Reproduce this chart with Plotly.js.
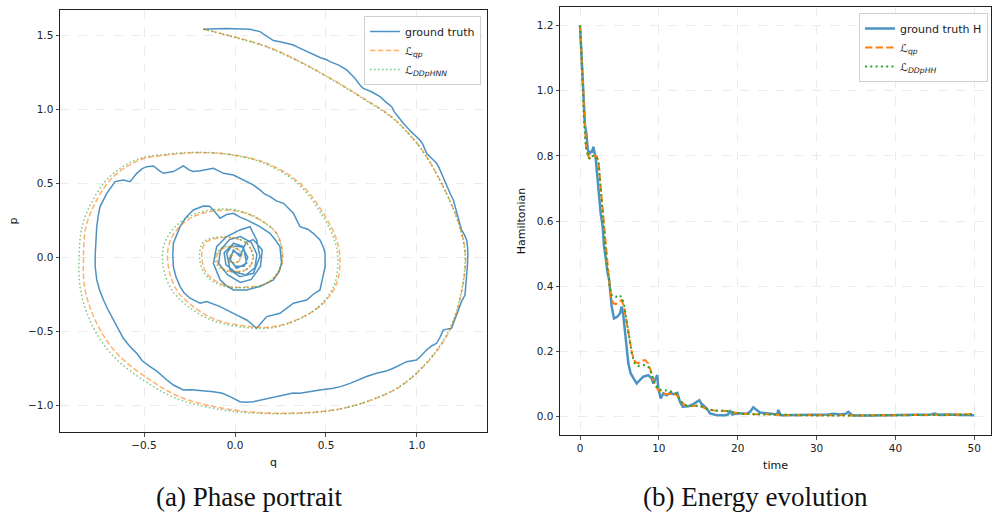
<!DOCTYPE html>
<html>
<head>
<meta charset="utf-8">
<script src="https://cdn.plot.ly/plotly-3.0.1.min.js"></script>
<style>html,body{margin:0;padding:0;background:#fff;}#chart{width:992px;height:517px;}</style>
</head>
<body>
<div id="chart"></div>
<script>
// ---------- (a) Phase portrait ----------
const gtQ = [-0.174,-0.13,-0.101,-0.05,0.0,0.04,0.082,0.137,0.17,0.211,
0.26,0.30,0.321,0.35,0.38,0.430,0.47,0.50,0.522,0.57,
0.614,0.64,0.66,0.69,0.705,0.75,0.797,0.83,0.861,0.875,
0.89,0.925,0.96,0.999,1.015,1.03,1.053,1.08,1.108,1.12,
1.13,1.145,1.17,1.185,1.200,1.21,1.22,1.235,1.245,1.262,
1.273,1.278,1.28,1.277,1.272,1.27,1.264,1.245,1.227,1.21,
1.190,1.165,1.145,1.125,1.108,1.08,1.053,1.02,0.998,0.943,
0.905,0.870,0.83,0.778,0.723,0.68,0.632,0.58,0.540,0.467,
0.40,0.357,0.32,0.284,0.23,0.174,0.13,0.101,0.06,0.027,
-0.027,-0.07,-0.119,-0.16,-0.192,-0.24,-0.284,-0.339,-0.37,-0.394,
-0.43,-0.467,-0.51,-0.540,-0.58,-0.614,-0.640,-0.668,-0.70,-0.723,
-0.745,-0.760,-0.768,-0.769,-0.766,-0.760,-0.752,-0.742,-0.705,-0.68,
-0.659,-0.614,-0.577,-0.540,-0.51,-0.485,-0.449,-0.42,-0.394,-0.339,
-0.31,-0.284,-0.25,-0.229,-0.19,-0.156,-0.119,-0.09,-0.064,-0.009,
0.03,0.064,0.10,0.137,0.16,0.192,0.23,0.266,0.30,0.321,
0.34,0.357,0.40,0.430,0.467,0.485,0.495,0.495,0.48,0.467,
0.43,0.394,0.321,0.28,0.247,0.174,0.145,0.119,0.09,0.064,
-0.009,-0.082,-0.156,-0.192,-0.247,-0.28,-0.302,-0.325,-0.339,-0.342,
-0.339,-0.302,-0.27,-0.229,-0.174,-0.140,-0.119,-0.082,-0.045,-0.009,
0.03,0.064,0.137,0.192,0.22,0.247,0.256,0.24,0.211,0.137,
0.064,-0.009,-0.05,-0.082,-0.119,-0.101,-0.046,0.027,0.082,0.119,
0.137,0.101,0.027,-0.027,-0.046,-0.009,0.046,0.064,0.009,-0.027,
-0.009,0.027,0.06,0.10,0.15,0.14,0.09,0.03,-0.04,-0.09,
-0.08,-0.03,0.03,0.09,0.12,0.11,0.06,0.0,-0.05,-0.06,
-0.02,0.04,0.07,0.05,0.0,-0.03,-0.01,0.03];
const gtP = [1.543,1.546,1.547,1.548,1.546,1.545,1.543,1.527,1.50,1.466,
1.455,1.445,1.436,1.418,1.40,1.369,1.35,1.338,1.324,1.30,
1.268,1.235,1.21,1.16,1.143,1.12,1.087,1.05,1.019,0.985,
0.96,0.907,0.86,0.816,0.795,0.77,0.704,0.67,0.636,0.61,
0.58,0.535,0.46,0.425,0.388,0.34,0.30,0.23,0.185,0.15,
0.117,0.07,0.02,-0.063,-0.12,-0.16,-0.255,-0.30,-0.356,-0.42,
-0.480,-0.486,-0.492,-0.545,-0.582,-0.60,-0.627,-0.67,-0.695,-0.706,
-0.73,-0.751,-0.77,-0.785,-0.807,-0.83,-0.853,-0.875,-0.886,-0.898,
-0.91,-0.920,-0.918,-0.927,-0.94,-0.954,-0.965,-0.977,-0.98,-0.977,
-0.943,-0.92,-0.909,-0.905,-0.898,-0.897,-0.898,-0.864,-0.835,-0.807,
-0.77,-0.740,-0.70,-0.650,-0.60,-0.548,-0.49,-0.424,-0.35,-0.289,
-0.22,-0.153,-0.07,0.005,0.10,0.207,0.28,0.343,0.433,0.48,
0.512,0.523,0.512,0.568,0.60,0.613,0.618,0.59,0.568,0.580,
0.60,0.618,0.59,0.580,0.585,0.591,0.602,0.585,0.568,0.557,
0.535,0.512,0.49,0.456,0.43,0.410,0.38,0.365,0.32,0.298,
0.25,0.207,0.19,0.162,0.117,0.07,0.027,-0.063,-0.15,-0.221,
-0.25,-0.289,-0.311,-0.35,-0.379,-0.401,-0.44,-0.480,-0.45,-0.424,
-0.379,-0.334,-0.300,-0.311,-0.277,-0.24,-0.198,-0.13,-0.063,0.02,
0.095,0.207,0.27,0.320,0.347,0.345,0.320,0.264,0.29,0.298,
0.27,0.253,0.207,0.162,0.12,0.072,-0.041,-0.10,-0.153,-0.198,
-0.221,-0.221,-0.19,-0.153,-0.041,0.072,0.140,0.185,0.207,0.117,
0.005,-0.108,-0.131,-0.086,0.027,0.095,0.072,-0.041,-0.074,-0.018,
0.050,0.005,0.10,0.12,0.05,-0.06,-0.15,-0.17,-0.12,-0.04,
0.05,0.12,0.14,0.10,0.02,-0.07,-0.12,-0.10,-0.05,0.03,
0.08,0.07,0.0,-0.06,-0.06,-0.01,0.04,0.02];

const qpQ = [-0.174,-0.009,0.174,0.357,0.540,0.700,0.861,0.960,1.035,1.145,1.236,1.267,1.236,1.172,1.053,0.907,0.723,0.540,0.266,-0.009,-0.284,-0.467,-0.650,-0.760,-0.824,-0.833,-0.819,-0.760,-0.668,-0.522,-0.375,-0.192,-0.009,0.174,0.357,0.485,0.559,0.577,0.559,0.485,0.357,0.211,0.082,-0.101,-0.229,-0.321,-0.366,-0.366,-0.321,-0.229,-0.101,0.027,0.137,0.229,0.262,0.247,0.174,0.046,-0.064,-0.156,-0.183,-0.165,-0.101,-0.009,0.064,0.101,0.073,-0.009,-0.082,-0.101,-0.064,-0.009,0.037,0.018,-0.027,-0.030,-0.010];
const qpP = [1.543,1.493,1.426,1.324,1.200,1.080,0.950,0.830,0.715,0.478,0.207,0.000,-0.289,-0.514,-0.717,-0.875,-0.977,-1.033,-1.055,-1.033,-0.954,-0.830,-0.650,-0.447,-0.221,0.000,0.207,0.388,0.546,0.659,0.692,0.708,0.692,0.636,0.501,0.298,0.117,-0.018,-0.176,-0.311,-0.413,-0.469,-0.469,-0.424,-0.334,-0.221,-0.063,0.072,0.185,0.275,0.316,0.309,0.253,0.162,0.027,-0.086,-0.176,-0.203,-0.187,-0.108,0.005,0.095,0.129,0.129,0.095,0.005,-0.074,-0.097,-0.063,0.005,0.061,0.068,0.027,-0.029,-0.029,0.000,0.020];

const ddQ = [-0.174,-0.009,0.174,0.357,0.540,0.700,0.861,0.960,1.035,1.145,1.236,1.265,1.232,1.165,1.045,0.897,0.710,0.525,0.250,-0.025,-0.300,-0.487,-0.672,-0.785,-0.848,-0.857,-0.840,-0.778,-0.682,-0.532,-0.380,-0.192,-0.012,0.168,0.348,0.475,0.548,0.565,0.547,0.474,0.346,0.197,0.066,-0.117,-0.250,-0.345,-0.395,-0.392,-0.340,-0.240,-0.105,0.025,0.137,0.227,0.258,0.241,0.165,0.036,-0.076,-0.168,-0.195,-0.176,-0.108,-0.012,0.062,0.098,0.068,-0.015,-0.090,-0.110,-0.070,-0.012,0.034,0.014,-0.032,-0.036,-0.014];
const ddP = [1.543,1.490,1.423,1.320,1.196,1.076,0.946,0.826,0.711,0.474,0.200,-0.005,-0.295,-0.520,-0.723,-0.880,-0.982,-1.038,-1.058,-1.040,-0.965,-0.845,-0.665,-0.460,-0.228,0.000,0.210,0.395,0.553,0.665,0.697,0.710,0.692,0.632,0.496,0.293,0.112,-0.022,-0.180,-0.318,-0.422,-0.478,-0.476,-0.430,-0.340,-0.225,-0.063,0.075,0.192,0.283,0.324,0.314,0.255,0.160,0.025,-0.090,-0.180,-0.206,-0.190,-0.110,0.005,0.100,0.135,0.133,0.096,0.003,-0.078,-0.100,-0.064,0.005,0.064,0.070,0.026,-0.032,-0.030,0.002,0.022];

const phaseTickVals = [-0.5, 0.0, 0.5, 1.0];
const phaseTickText = ["\u22120.5", "0.0", "0.5", "1.0"];
const phaseYTickVals = [-1.0, -0.5, 0.0, 0.5, 1.0, 1.5];
const phaseYTickText = ["\u22121.0", "\u22120.5", "0.0", "0.5", "1.0", "1.5"];

// ---------- (b) Energy evolution ----------
const gtT = [0,0.2,0.4,0.63,0.8,0.97,1.14,1.35,1.5,1.69,1.99,2.32,2.62,2.87,3.04,3.30,3.5,3.7,3.8,4.02,4.31,4.73,5.07,5.29,5.49,5.71,5.92,6.13,6.43,6.76,7.19,7.61,8.03,8.66,9.09,9.30,9.64,9.80,9.93,10.23,10.57,10.99,11.41,11.92,12.34,12.68,13.02,13.74,14.37,14.92,15.13,15.43,16.06,16.49,17.33,18.39,18.8,19.02,19.3,20,21.14,21.6,21.98,22.4,22.83,23.67,24.5,25.0,25.15,25.4,25.57,27.9,30,31.5,32.13,33,33.7,34.03,34.4,34.66,37,40.58,43,44.5,45.02,45.5,46.5,48,49,50];
const gtH = [1.20,1.10,0.97,0.895,0.87,0.823,0.803,0.815,0.81,0.828,0.793,0.70,0.624,0.585,0.525,0.48,0.44,0.42,0.385,0.337,0.301,0.306,0.316,0.337,0.311,0.255,0.214,0.163,0.132,0.117,0.101,0.112,0.122,0.127,0.117,0.101,0.122,0.127,0.086,0.055,0.071,0.065,0.072,0.068,0.072,0.045,0.030,0.031,0.038,0.045,0.050,0.038,0.025,0.009,0.004,0.004,0.006,0.019,0.006,0.010,0.008,0.015,0.028,0.020,0.012,0.010,0.008,0.006,0.020,0.006,0.004,0.004,0.005,0.006,0.008,0.006,0.008,0.014,0.006,0.003,0.003,0.004,0.004,0.006,0.009,0.005,0.006,0.005,0.004,0.004];

const qpT = [0,0.25,0.51,0.76,1.06,1.27,1.6,2.11,2.24,2.37,2.6,2.87,3.17,3.46,3.72,3.93,4.23,4.57,4.99,5.28,5.58,5.92,6.25,6.59,6.97,7.40,7.82,8.24,8.66,8.96,9.21,9.51,9.93,10.36,10.99,11.62,12.17,12.59,13.02,13.53,14.37,15.22,15.85,16.5,17,18.5,19.5,20.5,22,24,26,28,30,35,40,43,46,48,50];
const qpH = [1.20,1.08,0.91,0.829,0.798,0.793,0.80,0.798,0.79,0.778,0.71,0.634,0.542,0.46,0.409,0.367,0.347,0.345,0.352,0.357,0.337,0.286,0.234,0.194,0.168,0.163,0.171,0.173,0.163,0.142,0.122,0.096,0.081,0.073,0.068,0.070,0.068,0.055,0.040,0.032,0.033,0.033,0.025,0.020,0.018,0.017,0.012,0.008,0.007,0.007,0.004,0.003,0.004,0.003,0.003,0.003,0.005,0.006,0.008];

const ddT = [0,0.25,0.51,0.76,1.06,1.27,1.6,2.11,2.37,2.6,2.87,3.17,3.46,3.72,3.93,4.23,4.57,4.87,5.28,5.58,5.92,6.25,6.59,6.97,7.40,7.82,8.24,8.66,8.96,9.21,9.51,9.93,10.36,10.99,11.62,12.17,12.59,13.02,13.53,14.37,15.22,15.85,16.5,17,18.5,19.5,20.5,22,24,26,28,30,35,40,43,46,48,50];
const ddH = [1.20,1.08,0.905,0.825,0.795,0.79,0.80,0.795,0.775,0.70,0.625,0.535,0.455,0.41,0.375,0.368,0.367,0.373,0.367,0.345,0.29,0.235,0.19,0.16,0.155,0.157,0.158,0.152,0.138,0.12,0.098,0.085,0.08,0.08,0.076,0.07,0.056,0.04,0.033,0.034,0.033,0.025,0.02,0.018,0.017,0.012,0.008,0.007,0.006,0.004,0.003,0.003,0.003,0.003,0.003,0.004,0.005,0.006];

const energyXTicks = [0, 10, 20, 30, 40, 50];
const energyYTicks = [0.0, 0.2, 0.4, 0.6, 0.8, 1.0, 1.2];
const energyYText = ["0.0", "0.2", "0.4", "0.6", "0.8", "1.0", "1.2"];

const names = {
  gtA: "ground truth",
  qp: "\u2112<sub><i>qp</i></sub>",
  ddA: "\u2112<sub><i>DDpHNN</i></sub>",
  gtB: "ground truth H",
  ddB: "\u2112<sub><i>DDpHH</i></sub>"
};
const captions = ["(a) Phase portrait", "(b) Energy evolution"];

const C = {blue: "31,119,180", orange: "255,127,14", green: "44,160,44"};

const traces = [
  {x: gtQ, y: gtP, xaxis: "x", yaxis: "y", mode: "lines", name: names.gtA, legend: "legend",
   line: {color: `rgba(${C.blue},0.8)`, width: 1.5}},
  {x: qpQ, y: qpP, xaxis: "x", yaxis: "y", mode: "lines", name: names.qp, legend: "legend",
   line: {color: `rgba(${C.orange},0.6)`, width: 1.5, dash: "5.5px,2.4px", shape: "spline", smoothing: 1}},
  {x: ddQ, y: ddP, xaxis: "x", yaxis: "y", mode: "lines", name: names.ddA, legend: "legend",
   line: {color: `rgba(${C.green},0.6)`, width: 1.5, dash: "1.5px,2.5px", shape: "spline", smoothing: 1}},
  {x: gtT, y: gtH, xaxis: "x2", yaxis: "y2", mode: "lines", name: names.gtB, legend: "legend2",
   line: {color: `rgba(${C.blue},0.8)`, width: 2.5}},
  {x: qpT, y: qpH, xaxis: "x2", yaxis: "y2", mode: "lines", name: names.qp, legend: "legend2",
   line: {color: `rgb(${C.orange})`, width: 2, dash: "7.4px,3.2px"}},
  {x: ddT, y: ddH, xaxis: "x2", yaxis: "y2", mode: "lines", name: names.ddB, legend: "legend2",
   line: {color: `rgb(${C.green})`, width: 2, dash: "2px,3.3px"}}
];

const W = 992, H = 517;
const axisCommon = {
  showline: true, mirror: true, linecolor: "#222", linewidth: 1,
  ticks: "outside", ticklen: 3.5, tickwidth: 0.8, tickcolor: "#222",
  showgrid: true, gridcolor: "#e6e6e6", gridwidth: 0.8, griddash: "dash",
  zeroline: false, automargin: false,
  tickfont: {family: "DejaVu Sans", size: 10.5, color: "#222"},
  fixedrange: true
};
const titleFont = {family: "DejaVu Sans", size: 11, color: "#111"};
const legendCommon = {
  bgcolor: "rgba(255,255,255,0.8)", bordercolor: "#d0d0d0", borderwidth: 1,
  font: {family: "DejaVu Sans", size: 11, color: "#222"},
  xanchor: "right", yanchor: "top", tracegroupgap: 0
};

const layout = {
  width: W, height: H,
  margin: {l: 0, r: 0, t: 0, b: 0},
  paper_bgcolor: "#ffffff", plot_bgcolor: "#ffffff",
  showlegend: true,
  xaxis: Object.assign({}, axisCommon, {
    domain: [60 / W, 487 / W], range: [-0.962, 1.385], anchor: "y",
    tickmode: "array", tickvals: phaseTickVals, ticktext: phaseTickText,
    title: {text: "q", font: titleFont, standoff: 8}
  }),
  yaxis: Object.assign({}, axisCommon, {
    domain: [1 - 432 / H, 1 - 10 / H], range: [-1.182, 1.673], anchor: "x",
    tickmode: "array", tickvals: phaseYTickVals, ticktext: phaseYTickText,
    title: {text: "p", font: titleFont, standoff: 8}
  }),
  xaxis2: Object.assign({}, axisCommon, {
    domain: [560 / W, 991 / W], range: [-2.536, 52.12], anchor: "y2",
    tickmode: "array", tickvals: energyXTicks,
    title: {text: "time", font: titleFont, standoff: 8}
  }),
  yaxis2: Object.assign({}, axisCommon, {
    domain: [1 - 435 / H, 1 - 7 / H], range: [-0.057, 1.257], anchor: "x2",
    tickmode: "array", tickvals: energyYTicks, ticktext: energyYText,
    title: {text: "Hamiltonian", font: titleFont, standoff: 8}
  }),
  legend: Object.assign({}, legendCommon, {x: 481 / W, y: 1 - 16 / H}),
  legend2: Object.assign({}, legendCommon, {x: 988 / W, y: 1 - 13 / H}),
  annotations: [
    {text: captions[0], xref: "paper", yref: "paper", x: 249 / W, y: 1 - 497 / H,
     xanchor: "center", yanchor: "middle", showarrow: false,
     font: {family: "Liberation Serif", size: 27, color: "#111"}},
    {text: captions[1], xref: "paper", yref: "paper", x: 755 / W, y: 1 - 497 / H,
     xanchor: "center", yanchor: "middle", showarrow: false,
     font: {family: "Liberation Serif", size: 27, color: "#111"}}
  ]
};

Plotly.newPlot("chart", traces, layout, {displayModeBar: false, staticPlot: true});
</script>
</body>
</html>
